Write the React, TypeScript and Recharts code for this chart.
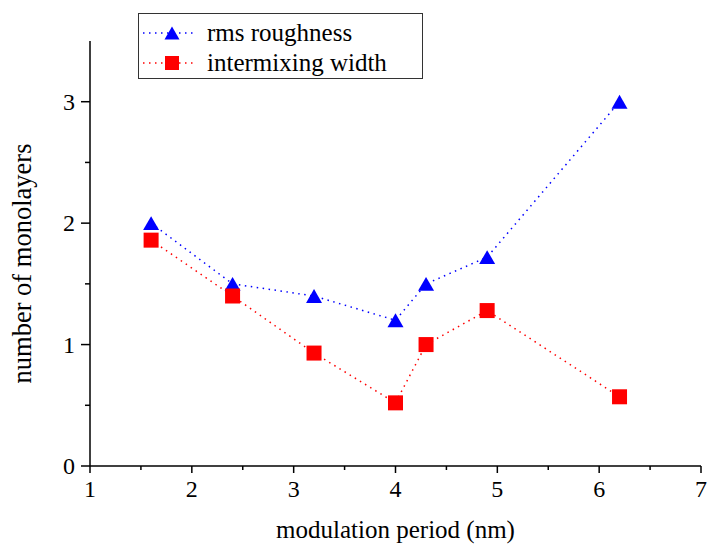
import React from "react";
import {
  LineChart,
  Line,
  XAxis,
  YAxis,
  Label,
} from "recharts";

// modulation period (nm)
const periods = [1.6, 2.4, 3.2, 4.0, 4.3, 4.9, 6.2];
// number of monolayers
const rmsRoughness = [2.0, 1.5, 1.4, 1.2, 1.5, 1.72, 3.0];
const intermixingWidth = [1.86, 1.4, 0.93, 0.52, 1.0, 1.28, 0.57];

const xTicks = [1, 1.5, 2, 2.5, 3, 3.5, 4, 4.5, 5, 5.5, 6, 6.5, 7];
const yTicks = [0, 0.5, 1, 1.5, 2, 2.5, 3];

const data = periods.map((x, i) => ({
  x,
  rms: rmsRoughness[i],
  mix: intermixingWidth[i],
}));

const FONT = "Liberation Serif, Tinos, DejaVu Serif, Noto Serif, serif";
const BLUE = "#0000ff";
const RED = "#ff0000";

const isMajor = (v: number) => Number.isInteger(v);

const BottomTick = (props: any) => {
  const { x, y, payload } = props;
  const v = payload.value;
  return (
    <g>
      <line x1={x} y1={y} x2={x} y2={y + (isMajor(v) ? 7 : 4)} stroke="#000" strokeWidth={1.5} />
      {isMajor(v) && (
        <text x={x} y={y + 31} textAnchor="middle" fontSize={24} style={{ fontFamily: FONT }} fill="#000">
          {v}
        </text>
      )}
    </g>
  );
};

const TopTick = (props: any) => {
  const { x, y, payload } = props;
  const v = payload.value;
  return <line x1={x} y1={y} x2={x} y2={y + (isMajor(v) ? 7 : 4)} stroke="#000" strokeWidth={1.5} />;
};

const LeftTick = (props: any) => {
  const { x, y, payload } = props;
  const v = payload.value;
  return (
    <g>
      <line x1={x} y1={y} x2={x - (isMajor(v) ? 9 : 5)} y2={y} stroke="#000" strokeWidth={1.5} />
      {isMajor(v) && (
        <text x={x - 15} y={y} dy="0.34em" textAnchor="end" fontSize={24} style={{ fontFamily: FONT }} fill="#000">
          {v}
        </text>
      )}
    </g>
  );
};

const RightTick = (props: any) => {
  const { x, y, payload } = props;
  const v = payload.value;
  return <line x1={x} y1={y} x2={x + (isMajor(v) ? 7 : 4)} y2={y} stroke="#000" strokeWidth={1.5} />;
};

const Triangle = ({ cx, cy, size = 16 }: { cx: number; cy: number; size?: number }) => {
  const h = size * 0.87;
  return (
    <polygon
      points={`${cx},${cy - h / 2} ${cx - size / 2},${cy + h / 2} ${cx + size / 2},${cy + h / 2}`}
      fill={BLUE}
    />
  );
};

const Square = ({ cx, cy, size = 15 }: { cx: number; cy: number; size?: number }) => (
  <rect x={cx - size / 2} y={cy - size / 2} width={size} height={size} fill={RED} />
);

const LegendBox = () => (
  <div
    style={{
      position: "absolute",
      left: 138,
      top: 13,
      width: 285,
      height: 66,
      boxSizing: "border-box",
      border: "1px solid #333",
      background: "#fff",
    }}
  >
    <svg width={283} height={64} style={{ position: "absolute", left: 0, top: 0 }}>
      <line x1={4} y1={19} x2={58} y2={19} stroke={BLUE} strokeWidth={1.5} strokeDasharray="1.5 4.5" />
      <Triangle cx={33} cy={19} size={15} />
      <text x={68} y={27} fontSize={25} style={{ fontFamily: FONT }} fill="#000">
        rms roughness
      </text>
      <line x1={4} y1={49} x2={58} y2={49} stroke={RED} strokeWidth={1.5} strokeDasharray="1.5 4.5" />
      <Square cx={33} cy={49} size={14} />
      <text x={68} y={57} fontSize={25} style={{ fontFamily: FONT }} fill="#000">
        intermixing width
      </text>
    </svg>
  </div>
);

export default function App() {
  return (
    <div
      style={{
        position: "absolute",
        left: 0,
        top: 0,
        width: 707,
        height: 548,
        background: "#fff",
        overflow: "hidden",
        fontFamily: FONT,
      }}
    >
      <LineChart
        width={707}
        height={548}
        data={data}
        margin={{ top: 41, right: 6, bottom: 0, left: 0 }}
      >
        <XAxis
          dataKey="x"
          type="number"
          domain={[1, 7]}
          ticks={xTicks}
          interval={0}
          allowDataOverflow
          height={82}
          tickLine={false}
          tickSize={0}
          tickMargin={0}
          tick={<BottomTick />}
          axisLine={{ stroke: "#000", strokeWidth: 1.5 }}
        >
          <Label
            value="modulation period (nm)"
            position="insideBottom"
            offset={10}
            style={{ fontSize: 25, fontFamily: FONT, fill: "#000" }}
          />
        </XAxis>
        <XAxis
          xAxisId="top"
          orientation="top"
          dataKey="x"
          type="number"
          domain={[1, 7]}
          ticks={xTicks}
          interval={0}
          allowDataOverflow
          height={0}
          tickLine={false}
          tickSize={0}
          tickMargin={0}
          tick={<TopTick />}
          axisLine={{ stroke: "#000", strokeWidth: 1.5 }}
        />
        <YAxis
          type="number"
          domain={[0, 3.5]}
          ticks={yTicks}
          interval={0}
          allowDataOverflow
          width={90}
          tickLine={false}
          tickSize={0}
          tickMargin={0}
          tick={<LeftTick />}
          axisLine={{ stroke: "#000", strokeWidth: 1.5 }}
        >
          <Label
            content={({ viewBox }: any) => {
              const cy = viewBox.y + viewBox.height / 2 + 10;
              return (
                <text
                  x={31}
                  y={cy}
                  transform={`rotate(-90, 31, ${cy})`}
                  textAnchor="middle"
                  fontSize={26.5}
                  style={{ fontFamily: FONT }}
                  fill="#000"
                >
                  number of monolayers
                </text>
              );
            }}
          />
        </YAxis>
        <YAxis
          yAxisId="right"
          orientation="right"
          type="number"
          domain={[0, 3.5]}
          ticks={yTicks}
          interval={0}
          allowDataOverflow
          width={0}
          tickLine={false}
          tickSize={0}
          tickMargin={0}
          tick={<RightTick />}
          axisLine={{ stroke: "#000", strokeWidth: 1.5 }}
        />
        <Line
          dataKey="rms"
          name="rms roughness"
          stroke={BLUE}
          strokeWidth={1.5}
          strokeDasharray="1.5 4.5"
          isAnimationActive={false}
          dot={(p: any) => <Triangle key={`t${p.index}`} cx={p.cx} cy={p.cy} />}
          activeDot={false}
        />
        <Line
          dataKey="mix"
          name="intermixing width"
          stroke={RED}
          strokeWidth={1.5}
          strokeDasharray="1.5 4.5"
          isAnimationActive={false}
          dot={(p: any) => <Square key={`s${p.index}`} cx={p.cx} cy={p.cy} />}
          activeDot={false}
        />
      </LineChart>
      <LegendBox />
    </div>
  );
}
